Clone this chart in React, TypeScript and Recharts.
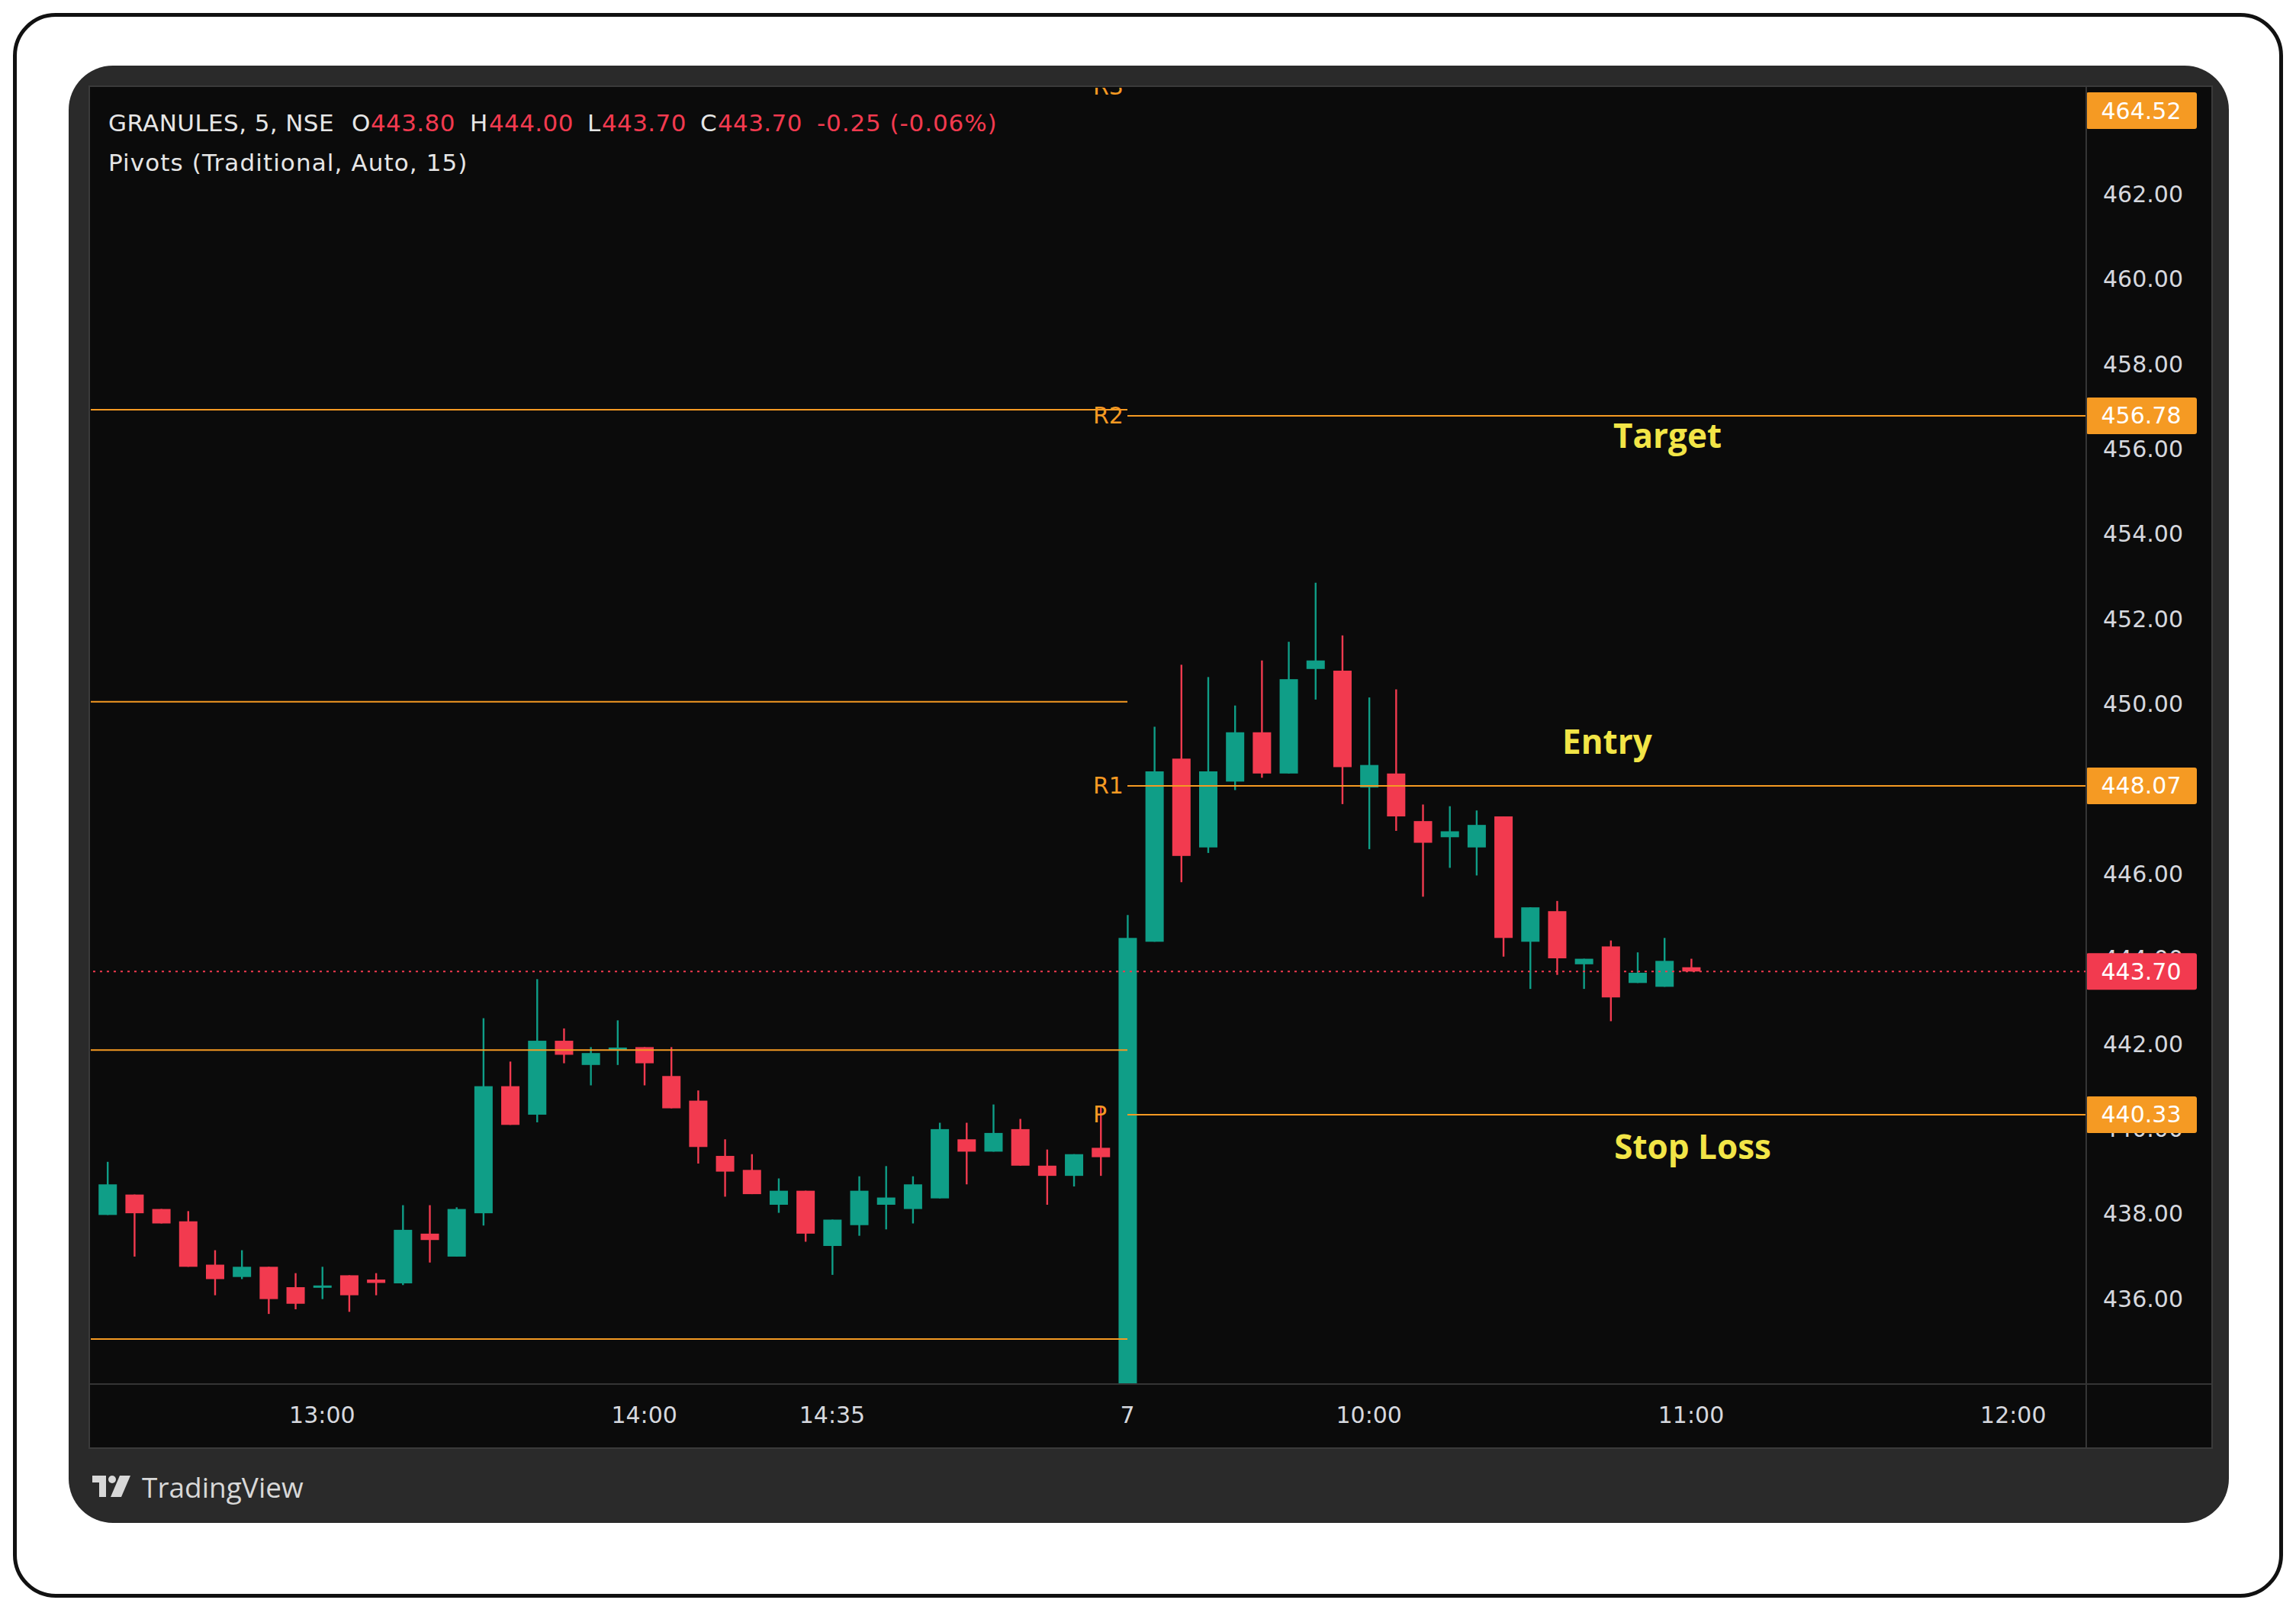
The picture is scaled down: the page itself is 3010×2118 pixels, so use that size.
import React from "react";
import { ComposedChart, Bar, XAxis, YAxis, ReferenceLine, ReferenceDot } from "recharts";

// ---------- data ----------
const times = [
  "12:20","12:25","12:30","12:35","12:40","12:45","12:50","12:55","13:00","13:05",
  "13:10","13:15","13:20","13:25","13:30","13:35","13:40","13:45","13:50","13:55",
  "14:00","14:05","14:10","14:15","14:20","14:25","14:30","14:35","14:40","14:45",
  "14:50","14:55","15:00","15:05","15:10","15:15","15:20","15:25",
  "09:15","09:20","09:25","09:30","09:35","09:40","09:45","09:50","09:55","10:00",
  "10:05","10:10","10:15","10:20","10:25","10:30","10:35","10:40","10:45","10:50",
  "10:55","11:00",
];
const opens = [
  437.97,438.45,438.11,437.82,436.80,436.51,436.75,436.27,436.28,436.55,
  436.45,436.36,437.53,436.99,438.01,441.00,440.33,442.07,441.50,441.87,
  441.92,441.24,440.66,439.36,439.03,438.21,438.54,437.24,437.73,438.21,
  438.11,438.36,439.75,439.46,439.99,439.13,438.89,439.55,
  432.90,444.40,448.71,446.62,448.17,449.33,448.36,450.82,450.78,448.03,
  448.36,447.24,446.86,446.62,447.35,444.40,445.12,443.87,444.29,443.43,
  443.34,443.80,
];
const highs = [
  439.22,438.45,438.11,438.06,437.14,437.14,436.75,436.60,436.75,436.55,
  436.60,438.20,438.20,438.15,442.60,441.58,443.52,442.36,441.92,442.55,
  441.92,441.92,440.90,439.75,439.40,438.83,438.54,437.86,438.88,439.12,
  438.88,440.14,440.14,440.57,440.23,439.51,439.40,440.52,
  445.03,449.46,450.92,450.63,449.96,451.02,451.46,452.85,451.61,450.15,
  450.34,447.63,447.59,447.49,447.35,445.21,445.36,444.00,444.43,444.15,
  444.49,444.00,
];
const lows = [
  437.97,436.99,437.77,436.75,436.08,436.46,435.64,435.75,435.99,435.69,
  436.08,436.32,436.85,436.99,437.72,440.09,440.15,441.54,441.02,441.50,
  441.02,440.48,439.18,438.40,438.46,438.02,437.34,436.56,437.48,437.63,
  437.77,438.36,438.69,439.46,439.13,438.21,438.64,438.89,
  432.60,444.40,445.80,446.49,447.97,448.26,448.36,450.10,447.64,446.58,
  447.01,445.46,446.14,445.96,444.05,443.29,443.62,443.29,442.53,443.43,
  443.34,443.70,
];
const closes = [
  438.69,438.01,437.77,436.75,436.46,436.75,435.99,435.88,436.31,436.08,
  436.37,437.62,437.38,438.11,441.00,440.09,442.07,441.74,441.78,441.91,
  441.54,440.48,439.57,438.99,438.46,438.54,437.53,437.86,438.54,438.38,
  438.69,439.99,439.46,439.90,439.13,438.89,439.40,439.33,
  444.49,448.41,446.42,448.41,449.33,448.36,450.58,451.02,448.51,448.56,
  447.35,446.73,447.00,447.15,444.49,445.21,444.01,444.00,443.09,443.67,
  443.95,443.70,
];

const priceTicks = [436, 438, 440, 442, 444, 446, 448, 450, 452, 454, 456, 458, 460, 462];
const timeTickIndex = [8, 20, 27, 38, 47, 59, 71];
const timeTickLabels = ["13:00", "14:00", "14:35", "7", "10:00", "11:00", "12:00"];

const dayStartIndex = 38;
const prevPivotNames = ["R2", "R1", "P", "S1"];
const prevPivotValues = [456.92, 450.05, 441.85, 435.05];
const pivotNames = ["R3", "R2", "R1", "P"];
const pivotValues = [464.52, 456.78, 448.07, 440.33];
const lastPrice = 443.70;

const noteTexts = ["Target", "Entry", "Stop Loss"];
const noteIndex = [58.12, 55.87, 59.06];
const notePrice = [456.03, 448.82, 439.28];

const headerSymbol = "GRANULES, 5, NSE";
const headerOHLC = [
  ["O", "443.80"],
  ["H", "444.00"],
  ["L", "443.70"],
  ["C", "443.70"],
];
const headerChange = "-0.25 (-0.06%)";
const headerStudy = "Pivots (Traditional, Auto, 15)";

const data = times.map((t, i) => ({ i, t, o: opens[i], h: highs[i], l: lows[i], c: closes[i] }));

// ---------- style ----------
const FONT = '"DejaVu Sans", sans-serif';
const GREEN = "#0f9e87";
const RED = "#f23a4f";
const ORANGE = "#f59a23";
const TEXT = "#d6d8de";
const YELLOW = "#f2e547";
const PANEL = "#2a2a2a";
const X_DOMAIN: [number, number] = [-0.62, 73.72];
const Y_DOMAIN: [number, number] = [433.99, 464.5];
const CHART_LEFT = 118;
const CHART_TOP = 114;
const W = 2781;
const H = 1783;
const PLOT_TOP = 1;
const MARGIN = { top: PLOT_TOP, left: 1, right: 0, bottom: 0 };

const renderCandle = (props: any) => {
  const { x, y, width, height, payload } = props;
  if (!payload) return <g />;
  const { o, h, l, c } = payload;
  const top = Math.min(y, y + height);
  const bot = Math.max(y, y + height);
  const k = h > l ? (bot - top) / (h - l) : 0;
  const Y = (v: number) => top + (h - v) * k;
  const cx = x + width / 2;
  const col = c >= o ? GREEN : RED;
  const bt = Y(Math.max(o, c));
  const bb = Y(Math.min(o, c));
  return (
    <g>
      <line x1={cx} x2={cx} y1={Y(h)} y2={Y(l)} stroke={col} strokeWidth={2.4} />
      <rect x={cx - 12} y={bt} width={24} height={Math.max(bb - bt, 3)} fill={col} />
    </g>
  );
};

const pivotShape = (name: string) => (p: any) => {
  const xs = Math.min(p.x1, p.x2);
  const xe = Math.max(p.x1, p.x2);
  return (
    <g clipPath={p.clipPath}>
      <line x1={xs} y1={p.y1} x2={xe} y2={p.y2} stroke={ORANGE} strokeWidth={2} />
      <text x={xs - 45} y={p.y1} dominantBaseline="central" fill={ORANGE} fontSize={30} fontFamily={FONT}>
        {name}
      </text>
    </g>
  );
};

const badgeShape = (label: string, color: string) => (p: any) => {
  const xr = Math.max(p.x1, p.x2);
  const cy = Math.max(p.y1, PLOT_TOP + 30);
  return (
    <g>
      <rect x={xr} y={cy - 24} width={145} height={48} rx={3} fill={color} />
      <text x={xr + 72} y={cy} textAnchor="middle" dominantBaseline="central" fill="#ffffff" fontSize={30} fontFamily={FONT}>
        {label}
      </text>
    </g>
  );
};

const dottedShape = (p: any) => (
  <line x1={p.x1} y1={p.y1} x2={p.x2} y2={p.y2} stroke={RED} strokeWidth={2} strokeDasharray="3 6" />
);

const noteShape = (text: string) => (p: any) => (
  <text x={p.cx} y={p.cy} textAnchor="middle" fill={YELLOW} fontSize={44} fontWeight={700} fontFamily='"Open Sans", sans-serif'>
    {text}
  </text>
);

const hdr = (left: number, top: number, text: string, color: string, spacing = 0.4) => (
  <div
    style={{ position: "absolute", left, top, fontFamily: FONT, fontSize: 31, lineHeight: "31px", color, whiteSpace: "nowrap", letterSpacing: spacing }}
  >
    {text}
  </div>
);

export default function App() {
  const ohlcLeft = [[461, 486], [616, 641], [770, 789], [918, 941]];
  return (
    <div style={{ position: "absolute", left: 0, top: 0, width: 3010, height: 2118, background: "#ffffff", overflow: "hidden" }}>
      <div style={{ position: "absolute", left: 17, top: 17, width: 2976, height: 2077, border: "5px solid #111", borderRadius: 56, boxSizing: "border-box" }} />
      <div style={{ position: "absolute", left: 90, top: 86, width: 2832, height: 1910, background: PANEL, borderRadius: 58 }} />
      <div style={{ position: "absolute", left: 116, top: 112, width: 2785, height: 1787, background: "#0b0b0b", border: "2px solid #3a3a3a", boxSizing: "border-box" }} />

      <div style={{ position: "absolute", left: CHART_LEFT, top: CHART_TOP }}>
        <ComposedChart width={W} height={H} data={data} margin={MARGIN}>
          <XAxis
            dataKey="i"
            type="number"
            domain={X_DOMAIN}
            allowDataOverflow
            ticks={timeTickIndex}
            interval={0}
            tickFormatter={(v: number) => timeTickLabels[timeTickIndex.indexOf(v)] ?? ""}
            axisLine={false}
            tickLine={false}
            tickSize={0}
            tickMargin={30}
            height={83}
            tick={{ fill: TEXT, fontSize: 30, fontFamily: FONT }}
          />
          <YAxis
            orientation="right"
            width={164}
            domain={Y_DOMAIN}
            allowDataOverflow
            ticks={priceTicks}
            interval={0}
            tickFormatter={(v: number) => v.toFixed(2)}
            axisLine={false}
            tickLine={false}
            tickSize={0}
            tickMargin={22}
            tick={{ fill: TEXT, fontSize: 30, fontFamily: FONT }}
          />
          {prevPivotValues.map((v, k) => (
            <ReferenceLine
              key={"pp" + prevPivotNames[k]}
              segment={[{ x: X_DOMAIN[0], y: v }, { x: dayStartIndex, y: v }]}
              stroke={ORANGE}
              strokeWidth={2}
              ifOverflow="visible"
            />
          ))}
          {pivotValues.map((v, k) => (
            <ReferenceLine
              key={"pv" + pivotNames[k]}
              segment={[{ x: dayStartIndex, y: v }, { x: X_DOMAIN[1], y: v }]}
              ifOverflow={k === 0 ? "hidden" : "visible"}
              shape={pivotShape(pivotNames[k])}
            />
          ))}
          <ReferenceLine y={lastPrice} ifOverflow="visible" shape={dottedShape} />
          <Bar
            dataKey={(d: any) => [d.l, d.h]}
            barSize={24}
            shape={renderCandle}
            isAnimationActive={false}
          />
          {noteTexts.map((t, k) => (
            <ReferenceDot key={"n" + t} x={noteIndex[k]} y={notePrice[k]} ifOverflow="visible" shape={noteShape(t)} />
          ))}
        </ComposedChart>
      </div>

      {/* overlay layer: price badges on top of the axis labels */}
      <div style={{ position: "absolute", left: CHART_LEFT, top: CHART_TOP, pointerEvents: "none" }}>
        <ComposedChart width={W} height={H} data={data} margin={MARGIN}>
          <XAxis dataKey="i" type="number" domain={X_DOMAIN} allowDataOverflow height={83} tick={false} axisLine={false} tickLine={false} />
          <YAxis orientation="right" width={164} domain={Y_DOMAIN} allowDataOverflow tick={false} axisLine={false} tickLine={false} />
          {pivotValues.map((v, k) => (
            <ReferenceLine
              key={"bd" + pivotNames[k]}
              y={v}
              ifOverflow="visible"
              shape={badgeShape(v.toFixed(2), ORANGE)}
            />
          ))}
          <ReferenceLine y={lastPrice} ifOverflow="visible" shape={badgeShape(lastPrice.toFixed(2), RED)} />
        </ComposedChart>
      </div>

      <div style={{ position: "absolute", left: 2734, top: 114, width: 2, height: 1783, background: "#353535" }} />
      <div style={{ position: "absolute", left: 118, top: 1813, width: 2781, height: 2, background: "#353535" }} />

      {hdr(142, 146, headerSymbol, "#e6e6e6")}
      {headerOHLC.map((p, k) => (
        <React.Fragment key={"o" + k}>
          {hdr(ohlcLeft[k][0], 146, p[0], "#e6e6e6")}
          {hdr(ohlcLeft[k][1], 146, p[1], RED)}
        </React.Fragment>
      ))}
      {hdr(1071, 146, headerChange, RED, 0.9)}
      {hdr(142, 198, headerStudy, "#e6e6e6", 1.1)}

      <svg style={{ position: "absolute", left: 121, top: 1934 }} width={56} height={30}>
        <path d="M0 0 H18 V28 H9 V9 H0 Z" fill="#d8d8d8" />
        <circle cx={26} cy={5} r={5} fill="#d8d8d8" />
        <path d="M36 0 H50 L38 28 H24 Z" fill="#d8d8d8" />
      </svg>
      <div style={{ position: "absolute", left: 186, top: 1927, fontFamily: '"Open Sans", sans-serif', fontSize: 37, lineHeight: "44px", color: "#d8d8d8", whiteSpace: "nowrap" }}>
        TradingView
      </div>
    </div>
  );
}
